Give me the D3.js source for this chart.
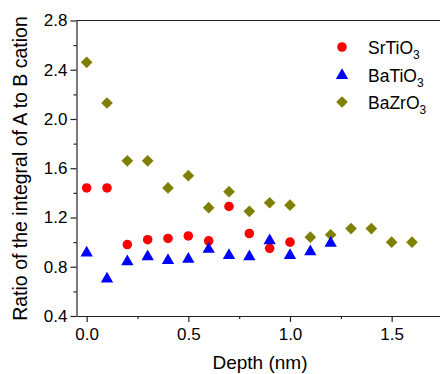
<!DOCTYPE html>
<html>
<head>
	<meta charset="utf-8">
	<script type="text/javascript" src="https://cdn.jsdelivr.net/npm/d3@7/dist/d3.min.js"></script>
	<title>Ratio of A to B cation</title>
	<style type="text/css">
		body { margin: 0; background: #fff; }
		text { font-family: "Liberation Sans", Arial, sans-serif; fill: #000; }
	</style>
</head>
<body>
	<script>
		// depth (nm) for each series
		var depthSr = [0, 0.1, 0.2, 0.3, 0.4, 0.5, 0.6, 0.7, 0.8, 0.9, 1.0];
		var ratioSr = [1.44, 1.44, 0.98, 1.02, 1.03, 1.05, 1.01, 1.29, 1.07, 0.95, 1.00];

		var depthBa = [0, 0.1, 0.2, 0.3, 0.4, 0.5, 0.6, 0.7, 0.8, 0.9, 1.0, 1.1, 1.2];
		var ratioBa = [0.92, 0.71, 0.85, 0.89, 0.86, 0.87, 0.95, 0.90, 0.89, 1.02, 0.90, 0.93, 1.00];

		var depthZr = [0, 0.1, 0.2, 0.3, 0.4, 0.5, 0.6, 0.7, 0.8, 0.9, 1.0, 1.1, 1.2, 1.3, 1.4, 1.5, 1.6];
		var ratioZr = [2.46, 2.13, 1.66, 1.66, 1.44, 1.54, 1.28, 1.41, 1.25, 1.32, 1.30, 1.04, 1.06, 1.11, 1.11, 1.00, 1.00];

		var seriesNames = ['SrTiO', 'BaTiO', 'BaZrO'];
		var xTicks = [0, 0.5, 1.0, 1.5];
		var xMinorTicks = [0.25, 0.75, 1.25, 1.75];
		var yTicks = [0.4, 0.8, 1.2, 1.6, 2.0, 2.4, 2.8];
		var yMinorTicks = [0.6, 1.0, 1.4, 1.8, 2.2, 2.6];

		var svgWidth = 440;
		var svgHeight = 374;
		var padLeft = 76.5, padTop = 20.5, padBottom = 316;

		var svg = d3.select('body')
				.append('svg')
				.attr('width', svgWidth)
				.attr('height', svgHeight);

		var xScale = d3.scaleLinear()
				.domain([-0.05, 1.75])
				.range([padLeft, 442.5]);

		var yScale = d3.scaleLinear()
				.domain([0.4, 2.8])
				.range([padBottom, padTop]);

		// x axis (major + minor)
		svg.append('g')
				.attr('transform', 'translate(0,' + padBottom + ')')
				.call(d3.axisBottom(xScale)
					.tickValues(xTicks)
					.tickSizeInner(6)
					.tickSizeOuter(0)
					.tickPadding(6)
					.tickFormat(d3.format('.1f')));

		svg.append('g')
				.attr('transform', 'translate(0,' + padBottom + ')')
				.call(d3.axisBottom(xScale)
					.tickValues(xMinorTicks)
					.tickSizeInner(3)
					.tickSizeOuter(0)
					.tickFormat(''))
				.select('.domain').remove();

		// y axis (major + minor)
		svg.append('g')
				.attr('transform', 'translate(' + padLeft + ',0)')
				.call(d3.axisLeft(yScale)
					.tickValues(yTicks)
					.tickSizeInner(6)
					.tickSizeOuter(0)
					.tickPadding(3)
					.tickFormat(d3.format('.1f')));

		svg.append('g')
				.attr('transform', 'translate(' + padLeft + ',0)')
				.call(d3.axisLeft(yScale)
					.tickValues(yMinorTicks)
					.tickSizeInner(3)
					.tickSizeOuter(0)
					.tickFormat(''))
				.select('.domain').remove();

		svg.selectAll('.tick text')
				.style('font-size', '17px')
				.style('font-family', '"Liberation Sans", Arial, sans-serif');

		svg.selectAll('.domain, .tick line')
				.attr('stroke', '#222')
				.attr('stroke-width', 1.2);

		// top frame line
		svg.append('line')
				.attr('x1', padLeft).attr('x2', svgWidth)
				.attr('y1', padTop).attr('y2', padTop)
				.attr('stroke', '#222')
				.attr('stroke-width', 1.2);

		// axis titles
		svg.append('text')
				.attr('x', 260)
				.attr('y', 369)
				.attr('text-anchor', 'middle')
				.style('font-size', '19px')
				.text('Depth (nm)');

		svg.append('text')
				.attr('transform', 'translate(27,' + 168.5 + ') rotate(-90)')
				.attr('text-anchor', 'middle')
				.style('font-size', '19.5px')
				.text('Ratio of the integral of A to B cation');

		function zip(xs, ys) {
			return xs.map(function (d, i) { return { x: d, y: ys[i] }; });
		}

		var circle = d3.symbol().type(d3.symbolCircle).size(72);
		var triangle = d3.symbol().type(d3.symbolTriangle).size(66);
		var square = d3.symbol().type(d3.symbolSquare).size(68);

		var series = [
			{ name: seriesNames[0], data: zip(depthSr, ratioSr), color: '#ff0000', path: circle(), rot: 0, dy: 0 },
			{ name: seriesNames[1], data: zip(depthBa, ratioBa), color: '#0000ff', path: triangle(), rot: 0, dy: 1 },
			{ name: seriesNames[2], data: zip(depthZr, ratioZr), color: '#808000', path: square(), rot: 45, dy: 0 }
		];

		// draw BaZrO3 first, then SrTiO3, then BaTiO3 on top
		[series[2], series[0], series[1]].forEach(function (s) {
			svg.append('g')
				.selectAll('path')
				.data(s.data)
				.enter()
				.append('path')
					.attr('d', s.path)
					.attr('fill', s.color)
					.attr('transform', function (d) {
						return 'translate(' + xScale(d.x) + ',' + (yScale(d.y) + s.dy) + ') rotate(' + s.rot + ')';
					});
		});

		// legend
		var legend = svg.append('g');
		series.forEach(function (s, i) {
			var ly = 47 + i * 27.5;
			legend.append('path')
				.attr('d', s.path)
				.attr('fill', s.color)
				.attr('transform', 'translate(342,' + (ly + s.dy) + ') rotate(' + s.rot + ')');
			var t = legend.append('text')
				.attr('x', 368)
				.attr('y', ly + 7)
				.style('font-size', '17.5px');
			t.append('tspan').text(s.name);
			t.append('tspan')
				.attr('dy', 5)
				.style('font-size', '12px')
				.text('3');
		});
	</script>
</body>
</html>
